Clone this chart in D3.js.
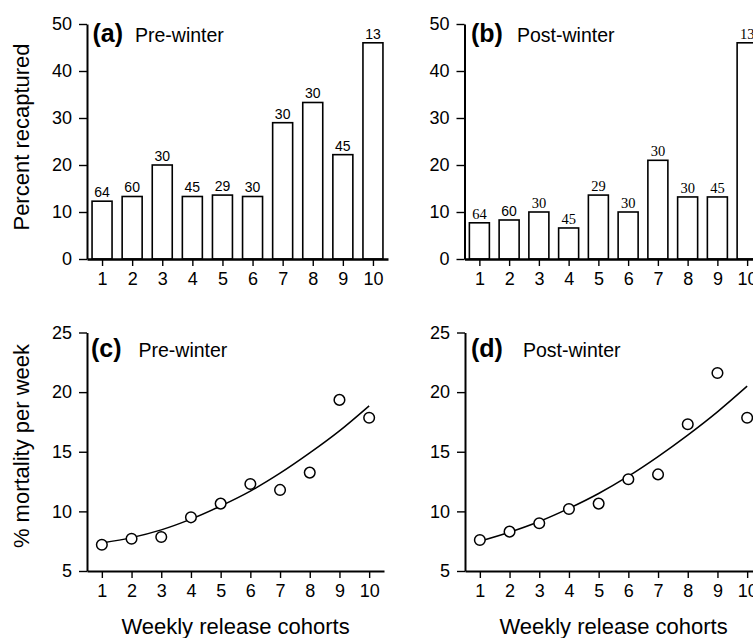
<!DOCTYPE html>
<html>
<head>
<meta charset="utf-8">
<script src="https://cdn.jsdelivr.net/npm/d3@7/dist/d3.min.js"></script>
<style>
	body { margin: 0; background: #fff; }
	svg { display: block; font-family: "Liberation Sans", Arial, Helvetica, sans-serif; }
	.axis path, .axis line { stroke: #000; }
	.axis text { fill: #000; }
</style>
</head>
<body>
<svg id="chart" width="753" height="638"></svg>
<script>
// cohorts on the x axis
var cohorts = [1, 2, 3, 4, 5, 6, 7, 8, 9, 10];
// number released per cohort (labels above the bars)
var releasedCounts = [64, 60, 30, 45, 29, 30, 30, 30, 45, 13];
// percent recaptured
var preRecaptured = [12.3, 13.3, 20, 13.3, 13.6, 13.3, 29, 33.3, 22.2, 46];
var postRecaptured = [7.7, 8.3, 10, 6.6, 13.6, 10, 21, 13.2, 13.2, 46];
// % mortality per week, observed
var preMortality = [7.2, 7.7, 7.85, 9.5, 10.65, 12.3, 11.8, 13.25, 19.35, 17.85];
var postMortality = [7.6, 8.3, 9.0, 10.2, 10.65, 12.7, 13.1, 17.3, 21.6, 17.85];
// fitted curve at each cohort
var preFit = [7.35, 7.8, 8.45, 9.35, 10.45, 11.7, 13.2, 14.9, 16.75, 18.85];
var postFit = [7.5, 8.25, 9.15, 10.25, 11.5, 12.95, 14.6, 16.4, 18.35, 20.5];
// tick labels
var recapTicks = [0, 10, 20, 30, 40, 50];
var mortTicks = [5, 10, 15, 20, 25];

var svg = d3.select("#chart");

var serif = "'Liberation Serif', 'Times New Roman', serif",
		sans = "'Liberation Sans', Arial, sans-serif";

function styleAxis(g) {
	g.selectAll("text")
		.attr("font-size", 18)
		.attr("font-family", sans);
	g.select(".domain").attr("stroke-width", 2);
	g.selectAll(".tick line").attr("stroke-width", 1.4);
}

function drawFrame(p, x, y, yTicks) {
	var yAxis = d3.axisLeft(y)
		.tickValues(yTicks)
		.tickSize(8)
		.tickPadding(7)
		.tickSizeOuter(0);
	var xAxis = d3.axisBottom(x)
		.tickValues(cohorts)
		.tickFormat(d3.format("d"))
		.tickSize(7)
		.tickPadding(6.5)
		.tickSizeOuter(0);

	var gx = svg.append("g")
		.attr("class", "axis axis--x")
		.attr("transform", "translate(0," + y.range()[0] + ")")
		.call(xAxis)
		.call(styleAxis);
	gx.select(".domain").attr("stroke-width", p.bars ? 2.6 : 2);

	svg.append("g")
		.attr("class", "axis axis--y")
		.attr("transform", "translate(" + x.range()[0] + ",0)")
		.call(yAxis)
		.call(styleAxis);

	var title = svg.append("text")
		.attr("x", p.titleX)
		.attr("y", p.titleY);
	title.append("tspan")
		.attr("font-weight", "bold")
		.attr("font-size", 25)
		.text(p.letter);
	title.append("tspan")
		.attr("x", p.subX)
		.attr("font-size", 19.5)
		.text(p.title);
}

function drawBars(p) {
	var x = d3.scaleLinear().domain([0.5, 10.5]).range(p.xRange),
			y = d3.scaleLinear().domain([0, 50]).range([259, 24]);
	var barW = 20;

	svg.append("g")
		.selectAll("rect")
		.data(p.values)
		.join("rect")
			.attr("x", function(d, i) { return x(cohorts[i]) - barW / 2; })
			.attr("y", function(d) { return y(d); })
			.attr("width", barW)
			.attr("height", function(d) { return y(0) - y(d); })
			.attr("fill", "#fff")
			.attr("stroke", "#000")
			.attr("stroke-width", 1.6);

	svg.append("g")
		.selectAll("text")
		.data(p.values)
		.join("text")
			.attr("x", function(d, i) { return x(cohorts[i]); })
			.attr("y", function(d) { return y(d) - 4; })
			.attr("text-anchor", "middle")
			.attr("font-size", function(d, i) { return p.serifLabels && i !== 1 ? 14.5 : 14; })
			.attr("font-family", function(d, i) { return p.serifLabels && i !== 1 ? serif : sans; })
			.text(function(d, i) { return releasedCounts[i]; });

	drawFrame(p, x, y, recapTicks);
}

function drawScatter(p) {
	var x = d3.scaleLinear().domain([0.5, 10.5]).range(p.xRange),
			y = d3.scaleLinear().domain([5, 25]).range([571, 332.5]);

	var line = d3.line()
		.curve(d3.curveCatmullRom)
		.x(function(d, i) { return x(cohorts[i]); })
		.y(function(d) { return y(d); });

	svg.append("path")
		.datum(p.fit)
		.attr("d", line)
		.attr("fill", "none")
		.attr("stroke", "#000")
		.attr("stroke-width", 1.5);

	svg.append("g")
		.selectAll("circle")
		.data(p.values)
		.join("circle")
			.attr("cx", function(d, i) { return x(cohorts[i]); })
			.attr("cy", function(d) { return y(d); })
			.attr("r", 5.3)
			.attr("fill", "#fff")
			.attr("stroke", "#000")
			.attr("stroke-width", 1.5);

	drawFrame(p, x, y, mortTicks);

	svg.append("text")
		.attr("x", (p.xRange[0] + p.xRange[1]) / 2)
		.attr("y", 634)
		.attr("text-anchor", "middle")
		.attr("font-size", 22)
		.text("Weekly release cohorts");
}

drawBars({bars: true, values: preRecaptured, xRange: [87, 388],
	letter: "(a)", title: "Pre-winter", titleX: 92.5, subX: 135, titleY: 42});
drawBars({bars: true, values: postRecaptured, xRange: [464.5, 762], serifLabels: true,
	letter: "(b)", title: "Post-winter", titleX: 471, subX: 517, titleY: 42});
drawScatter({values: preMortality, fit: preFit, xRange: [87, 384],
	letter: "(c)", title: "Pre-winter", titleX: 91, subX: 138.5, titleY: 356.5});
drawScatter({values: postMortality, fit: postFit, xRange: [465, 762],
	letter: "(d)", title: "Post-winter", titleX: 471, subX: 523, titleY: 356.5});

svg.append("text")
	.attr("transform", "translate(29,137) rotate(-90)")
	.attr("text-anchor", "middle")
	.attr("font-size", 22)
	.text("Percent recaptured");

svg.append("text")
	.attr("transform", "translate(29,446) rotate(-90)")
	.attr("text-anchor", "middle")
	.attr("font-size", 22)
	.text("% mortality per week");
</script>
</body>
</html>
